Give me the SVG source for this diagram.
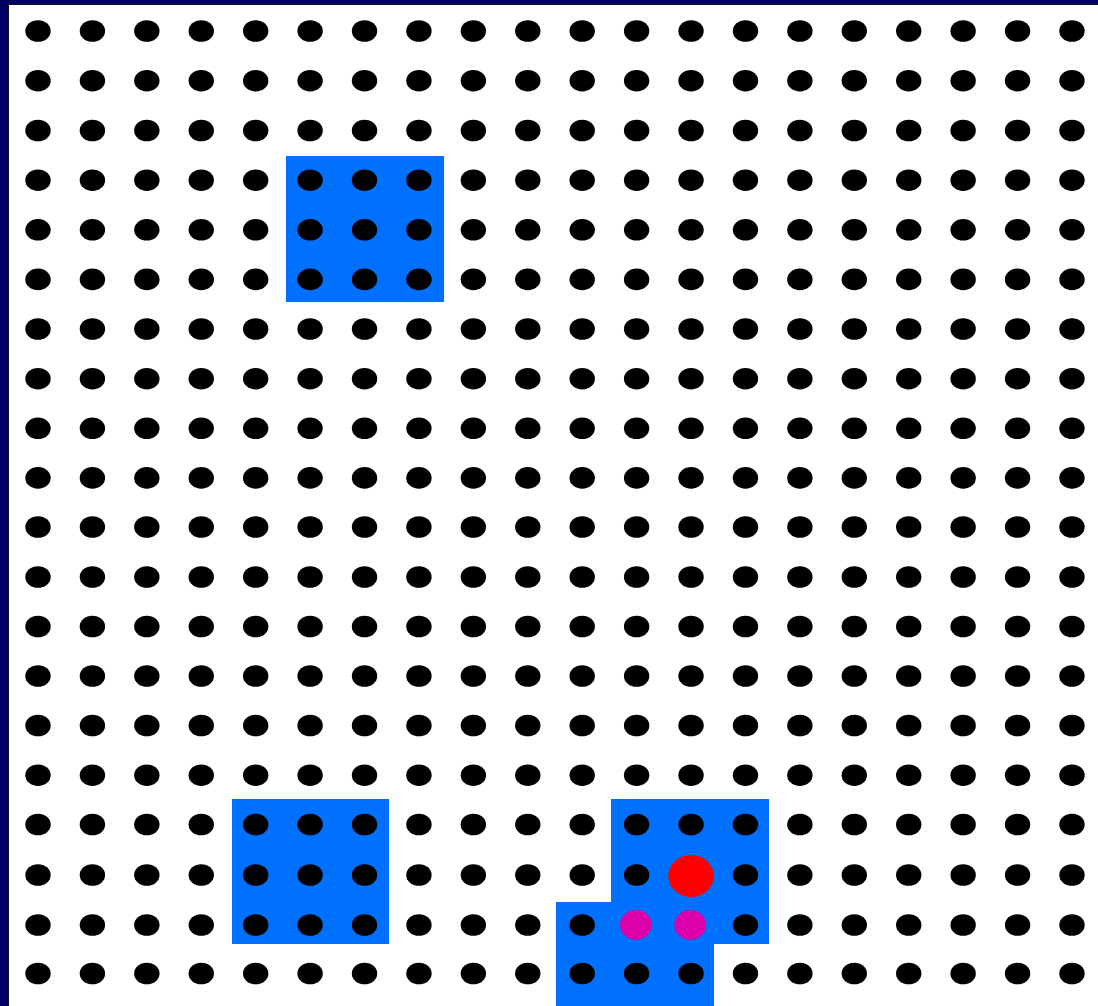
<svg xmlns="http://www.w3.org/2000/svg" xmlns:xlink="http://www.w3.org/1999/xlink" width="1098" height="1006" viewBox="0 0 1098 1006">
<style>
.blue{fill:#0070ff}
.dot{fill:#000}
</style>
<defs>
<g id="row">
<ellipse class="dot" cx="38" cy="0" rx="12.7" ry="10.8"/>
<ellipse class="dot" cx="92.42" cy="0" rx="12.7" ry="10.8"/>
<ellipse class="dot" cx="146.84" cy="0" rx="12.7" ry="10.8"/>
<ellipse class="dot" cx="201.26" cy="0" rx="12.7" ry="10.8"/>
<ellipse class="dot" cx="255.68" cy="0" rx="12.7" ry="10.8"/>
<ellipse class="dot" cx="310.1" cy="0" rx="12.7" ry="10.8"/>
<ellipse class="dot" cx="364.52" cy="0" rx="12.7" ry="10.8"/>
<ellipse class="dot" cx="418.94" cy="0" rx="12.7" ry="10.8"/>
<ellipse class="dot" cx="473.36" cy="0" rx="12.7" ry="10.8"/>
<ellipse class="dot" cx="527.78" cy="0" rx="12.7" ry="10.8"/>
<ellipse class="dot" cx="582.2" cy="0" rx="12.7" ry="10.8"/>
<ellipse class="dot" cx="636.62" cy="0" rx="12.7" ry="10.8"/>
<ellipse class="dot" cx="691.04" cy="0" rx="12.7" ry="10.8"/>
<ellipse class="dot" cx="745.46" cy="0" rx="12.7" ry="10.8"/>
<ellipse class="dot" cx="799.88" cy="0" rx="12.7" ry="10.8"/>
<ellipse class="dot" cx="854.3" cy="0" rx="12.7" ry="10.8"/>
<ellipse class="dot" cx="908.72" cy="0" rx="12.7" ry="10.8"/>
<ellipse class="dot" cx="963.14" cy="0" rx="12.7" ry="10.8"/>
<ellipse class="dot" cx="1017.56" cy="0" rx="12.7" ry="10.8"/>
<ellipse class="dot" cx="1071.98" cy="0" rx="12.7" ry="10.8"/>
</g>
</defs>
<rect x="0" y="0" width="1098" height="1006" fill="#000066"/>
<rect x="8" y="4" width="1090" height="1002" fill="#111111"/>
<rect x="9" y="5" width="1089" height="1001" fill="#ffffff"/>
<g id="regions">
<rect class="blue" x="286" y="156" width="158" height="146"/>
<rect class="blue" x="232" y="799" width="157" height="145"/>
<rect class="blue" x="611" y="799" width="158" height="145"/>
<rect class="blue" x="556" y="902" width="158" height="104"/>
</g>
<g id="grid">
<use xlink:href="#row" href="#row" y="31"/>
<use xlink:href="#row" href="#row" y="80.7"/>
<use xlink:href="#row" href="#row" y="130.5"/>
<use xlink:href="#row" href="#row" y="180.2"/>
<use xlink:href="#row" href="#row" y="229.8"/>
<use xlink:href="#row" href="#row" y="279.4"/>
<use xlink:href="#row" href="#row" y="329"/>
<use xlink:href="#row" href="#row" y="378.7"/>
<use xlink:href="#row" href="#row" y="428.3"/>
<use xlink:href="#row" href="#row" y="477.9"/>
<use xlink:href="#row" href="#row" y="527"/>
<use xlink:href="#row" href="#row" y="577"/>
<use xlink:href="#row" href="#row" y="626.5"/>
<use xlink:href="#row" href="#row" y="676"/>
<use xlink:href="#row" href="#row" y="725.5"/>
<use xlink:href="#row" href="#row" y="775.2"/>
<use xlink:href="#row" href="#row" y="824.5"/>
<use xlink:href="#row" href="#row" y="875"/>
<use xlink:href="#row" href="#row" y="925"/>
<use xlink:href="#row" href="#row" y="973.5"/>
</g>
<g id="highlights">
<ellipse cx="691" cy="876" rx="22.8" ry="21" fill="#ff0000"/>
<ellipse cx="635.8" cy="925" rx="15.8" ry="15" fill="#dd00aa"/>
<ellipse cx="690.2" cy="925" rx="15.8" ry="15" fill="#dd00aa"/>
</g>
</svg>
